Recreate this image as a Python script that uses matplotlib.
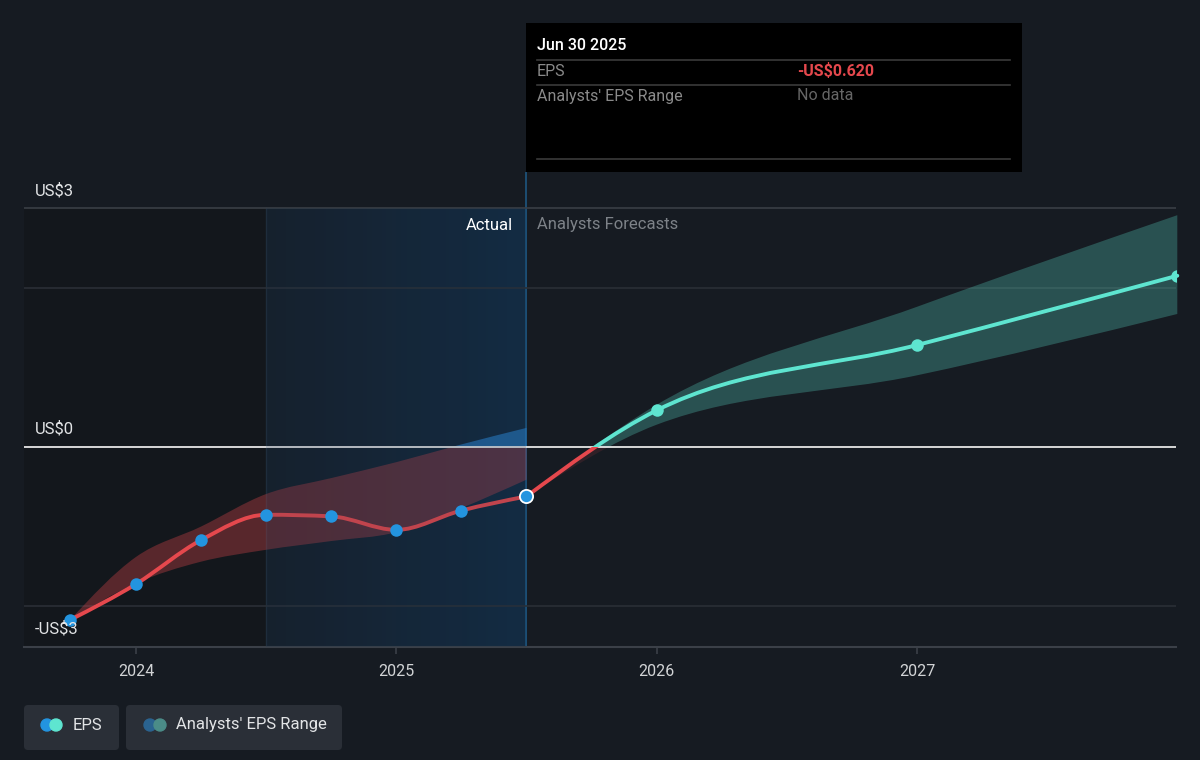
import numpy as np
import matplotlib
matplotlib.use("Agg")
import matplotlib.pyplot as plt
from matplotlib.path import Path
from matplotlib.patches import PathPatch, Rectangle, FancyBboxPatch, Circle
from matplotlib.colors import LinearSegmentedColormap

plt.rcParams['font.family'] = ['Roboto', 'DejaVu Sans']

# data
actual_dates = [2023.747, 2024.0, 2024.249, 2024.5, 2024.75, 2025.0, 2025.247, 2025.5]
actual_eps = [-2.17, -1.72, -1.17, -0.85, -0.87, -1.04, -0.80, -0.62]
actual_hi = [-2.17, -1.38, -1.00, -0.59, -0.39, -0.19, 0.03, 0.24]
actual_lo = [-2.17, -1.71, -1.44, -1.29, -1.18, -1.07, -0.77, -0.41]

fc_dates = [2025.5, 2026.0, 2027.0, 2028.0]
fc_eps = [-0.62, 0.46, 1.28, 2.15]
fc_hi = [-0.62, 0.53, 1.76, 2.91]
fc_lo = [-0.62, 0.28, 0.90, 1.67]

year_ticks = [2024, 2025, 2026, 2027]
y_labels = ["US$3", "US$0", "-US$3"]

BG = '#161b22'
RED = '#e5484d'
TEAL = '#5ee5d0'
BLUE = '#2394df'

XMIN, XMAX = 2023.570, 2027.995
YMIN, YMAX = -2.51, 3.452


def monotone_path(xs, ys):
    # d3 curveMonotoneX style bezier segments
    xs = np.asarray(xs, float)
    ys = np.asarray(ys, float)
    n = len(xs)
    h = np.diff(xs)
    s = np.diff(ys) / h
    m = np.zeros(n)
    for i in range(1, n - 1):
        p = (s[i - 1] * h[i] + s[i] * h[i - 1]) / (h[i - 1] + h[i])
        m[i] = (np.sign(s[i - 1]) + np.sign(s[i])) * min(abs(s[i - 1]), abs(s[i]), 0.5 * abs(p))
    m[0] = (3 * s[0] - m[1]) / 2
    m[-1] = (3 * s[-1] - m[-2]) / 2
    verts = [(xs[0], ys[0])]
    for i in range(n - 1):
        d = h[i] / 3
        verts += [(xs[i] + d, ys[i] + m[i] * d),
                  (xs[i + 1] - d, ys[i + 1] - m[i + 1] * d),
                  (xs[i + 1], ys[i + 1])]
    return verts


def band_path(xs, hi, lo):
    up = monotone_path(xs, hi)
    dn = monotone_path(xs, lo)[::-1]
    verts = up + dn + [up[0]]
    codes = [Path.MOVETO] + [Path.CURVE4] * (len(up) - 1)
    codes += [Path.LINETO] + [Path.CURVE4] * (len(dn) - 1) + [Path.CLOSEPOLY]
    return Path(verts, codes)


def line_path(xs, ys):
    v = monotone_path(xs, ys)
    return Path(v, [Path.MOVETO] + [Path.CURVE4] * (len(v) - 1))


fig = plt.figure(figsize=(12, 7.6), dpi=100, facecolor=BG)
ax = fig.add_axes([24 / 1200, 113 / 760, 1152 / 1200, 475 / 760])
ax.set_facecolor(BG)

# background zones (below the top gridline)
top_frac = (3 - YMIN) / (YMAX - YMIN)
ax.axvspan(XMIN, 2024.5, ymax=top_frac, color='#13171c', zorder=0, lw=0)
grad = LinearSegmentedColormap.from_list('hl', ['#161d26', '#122a41'])
ax.imshow(np.linspace(0, 1, 256).reshape(1, -1), cmap=grad, aspect='auto',
          extent=[2024.5, 2025.5, YMIN, 3], zorder=0.5)
ax.axvline(2024.5, ymax=top_frac, color='#1f2c38', lw=1, zorder=0.6)
ax.axvline(2025.5, color='#1e5680', lw=1.2, zorder=0.6)

# grid
ax.axhline(3, color='#3a3f46', lw=1.2, zorder=1)
for g in (2, -2):
    ax.axhline(g, color='#2a2f36', lw=1.2, zorder=1)


def clip_sign(artist, positive):
    # clip after adding, else add_patch resets it to the axes box
    y0 = 0 if positive else -10
    artist.set_clip_path(Rectangle((XMIN - 1, y0), 10, 10, transform=ax.transData))


# bands
pb = band_path(actual_dates, actual_hi, actual_lo)
p1 = ax.add_patch(PathPatch(pb, facecolor=RED, alpha=0.33, lw=0, zorder=2))
clip_sign(p1, False)
p2 = ax.add_patch(PathPatch(pb, facecolor='#2a86d6', alpha=0.6, lw=0, zorder=2))
clip_sign(p2, True)

fb = band_path(fc_dates, fc_hi, fc_lo)
f1 = ax.add_patch(PathPatch(fb, facecolor=TEAL, alpha=0.27, lw=0, zorder=2))
clip_sign(f1, True)
f2 = ax.add_patch(PathPatch(fb, facecolor=RED, alpha=0.12, lw=0, zorder=2))
clip_sign(f2, False)

ax.axhline(0, color='#e6e6e6', lw=1.3, zorder=3)

# lines
ax.add_patch(PathPatch(line_path(actual_dates, actual_eps), fill=False,
                       edgecolor=RED, lw=2.8, capstyle='round', zorder=4))
# muted look of the line inside the highlighted year
ax.axvspan(2024.5, 2025.5, ymax=top_frac, color='#1a3550', alpha=0.18, lw=0, zorder=4.2)
lf = ax.add_patch(PathPatch(line_path(fc_dates, fc_eps), fill=False, edgecolor=TEAL,
                            lw=2.8, capstyle='round', zorder=4))
clip_sign(lf, True)
lr = ax.add_patch(PathPatch(line_path(fc_dates, fc_eps), fill=False, edgecolor=RED,
                            lw=2.8, capstyle='round', zorder=4))
clip_sign(lr, False)

ax.plot(actual_dates[:-1], actual_eps[:-1], 'o', color=BLUE, ms=9, mew=0, zorder=5)
ax.plot(actual_dates[-1:], actual_eps[-1:], 'o', color=BLUE, ms=9.5,
        mec='white', mew=1.3, zorder=5)
ax.plot(fc_dates[1:], fc_eps[1:], 'o', color=TEAL, ms=9, mew=0, zorder=5)

ax.set_xlim(XMIN, XMAX)
ax.set_ylim(YMIN, YMAX)
ax.set_yticks([])
ax.set_xticks(year_ticks)
ax.set_xticklabels([str(y) for y in year_ticks])
ax.tick_params(axis='x', colors='#3b4048', length=5, width=1.2,
               labelcolor='#d2d4d6', labelsize=11.5, pad=7)
for sp in ('top', 'left', 'right'):
    ax.spines[sp].set_visible(False)
ax.spines['bottom'].set_color('#3b4048')
ax.spines['bottom'].set_linewidth(1.5)

# overlay in pixel coordinates
ov = fig.add_axes([0, 0, 1, 1], facecolor='none')
ov.set_xlim(0, 1200)
ov.set_ylim(760, 0)
ov.axis('off')

for lab, py in zip(y_labels, [191, 429, 629]):
    ov.text(35, py, lab, color='#e2e4e6', fontsize=12, va='center', ha='left')

ov.text(513, 225, "Actual", color='white', fontsize=12, va='center', ha='right')
ov.text(537, 225, "Analysts Forecasts", color='#7d8288', fontsize=12,
        va='center', ha='left')

# tooltip
ov.add_patch(Rectangle((526, 23), 496, 149, facecolor='black', edgecolor='none', zorder=5))
ov.text(537, 45, "Jun 30 2025", color='white', fontsize=11.5, va='center',
        fontweight='medium', zorder=6)
for py in (60, 85, 159):
    ov.plot([537, 1010], [py, py], color='#3a3a3a', lw=1.2, zorder=6)
ov.text(537, 71, "EPS", color='#8a8a8a', fontsize=11.5, va='center', zorder=6)
ov.text(797, 71, "-US$0.620", color=RED, fontsize=11.5, va='center',
        fontweight='bold', zorder=6)
ov.text(537, 96, "Analysts' EPS Range", color='#8a8a8a', fontsize=11.5,
        va='center', zorder=6)
ov.text(797, 96, "No data", color='#666666', fontsize=11.5, va='center', zorder=6)

# legend
ov.add_patch(FancyBboxPatch((24, 705), 95, 45, boxstyle='round,pad=0,rounding_size=4',
                            facecolor='#2a2f37', edgecolor='none'))
ov.add_patch(FancyBboxPatch((126, 705), 216, 45, boxstyle='round,pad=0,rounding_size=4',
                            facecolor='#2a2f37', edgecolor='none'))
ov.add_patch(Circle((47, 725), 6, color=BLUE))
ov.add_patch(Circle((56, 725), 6, color=TEAL))
ov.text(73, 725, "EPS", color='#e2e4e6', fontsize=12, va='center')
ov.add_patch(Circle((150, 725), 6, color='#2a6390'))
ov.add_patch(Circle((160, 725), 6, color='#4b8c88'))
ov.text(176, 725, "Analysts' EPS Range", color='#e2e4e6', fontsize=12, va='center')

fig.savefig('out.png', dpi=100, facecolor=BG)
